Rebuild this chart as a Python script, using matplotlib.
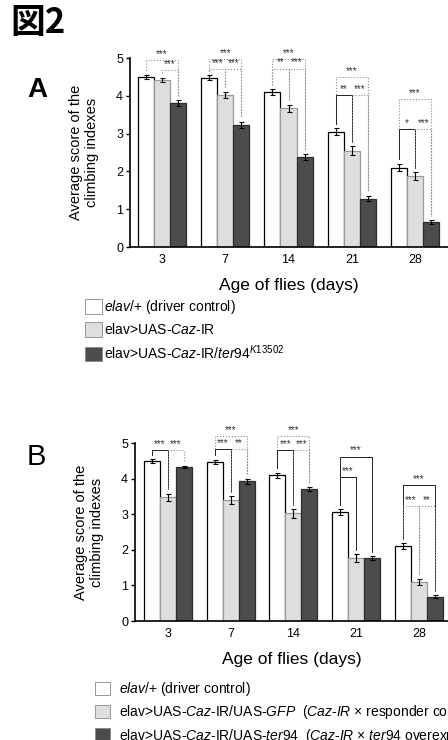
import numpy as np
import matplotlib
matplotlib.use("Agg")
import matplotlib.pyplot as plt
from matplotlib.patches import Patch

plt.rcParams['font.family'] = ['Liberation Sans', 'Noto Sans CJK JP', 'DejaVu Sans']
plt.rcParams['mathtext.fontset'] = 'custom'
plt.rcParams['mathtext.rm'] = 'Liberation Sans'
plt.rcParams['mathtext.it'] = 'Liberation Sans:italic'

# data
days = ['3', '7', '14', '21', '28']

a_control = [4.50, 4.48, 4.10, 3.05, 2.10]
a_cazir = [4.42, 4.02, 3.67, 2.55, 1.88]
a_ter94 = [3.80, 3.23, 2.37, 1.28, 0.66]
a_err = [[0.05, 0.06, 0.07, 0.09, 0.10],
         [0.05, 0.08, 0.09, 0.11, 0.10],
         [0.08, 0.08, 0.08, 0.07, 0.05]]

b_control = [4.50, 4.47, 4.10, 3.06, 2.10]
b_gfp = [3.47, 3.40, 3.02, 1.77, 1.10]
b_ter94 = [4.33, 3.93, 3.70, 1.77, 0.68]
b_err = [[0.05, 0.06, 0.07, 0.09, 0.08],
         [0.11, 0.11, 0.12, 0.10, 0.09],
         [0.03, 0.07, 0.06, 0.06, 0.04]]

# significance brackets: (group, bar1, bar2, level, label, solid?)
a_sig = [(0, 0, 2, 4.95, '***', False), (0, 1, 2, 4.69, '***', False),
         (1, 0, 2, 4.97, '***', False), (1, 0, 1, 4.70, '***', False), (1, 1, 2, 4.70, '***', False),
         (2, 0, 2, 4.97, '***', False), (2, 0, 1, 4.72, '**', False), (2, 1, 2, 4.72, '***', False),
         (3, 0, 2, 4.50, '***', False), (3, 0, 1, 4.01, '**', True), (3, 1, 2, 4.01, '***', False),
         (4, 0, 2, 3.92, '***', False), (4, 0, 1, 3.12, '*', True), (4, 1, 2, 3.12, '***', False)]

b_sig = [(0, 0, 1, 4.81, '***', True), (0, 1, 2, 4.81, '***', False),
         (1, 0, 2, 5.19, '***', False), (1, 0, 1, 4.83, '***', True), (1, 1, 2, 4.83, '**', False),
         (2, 0, 2, 5.20, '***', False), (2, 0, 1, 4.81, '***', True), (2, 1, 2, 4.81, '***', False),
         (3, 0, 2, 4.62, '***', True), (3, 0, 1, 4.04, '***', True),
         (4, 0, 2, 3.83, '***', True), (4, 0, 1, 3.23, '***', False), (4, 1, 2, 3.23, '**', False)]

legend_a = [r'$\mathit{elav}$/+ (driver control)',
            r'elav>UAS-$\mathit{Caz}$-IR',
            r'elav>UAS-$\mathit{Caz}$-IR/$\mathit{ter94}^{\mathit{K13502}}$']
legend_b = [r'$\mathit{elav}$/+ (driver control)',
            r'elav>UAS-$\mathit{Caz}$-IR/UAS-$\mathit{GFP}$  ($\mathit{Caz}$-$\mathit{IR}$ × responder control)',
            r'elav>UAS-$\mathit{Caz}$-IR/UAS-$\mathit{ter94}$  ($\mathit{Caz}$-$\mathit{IR}$ × $\mathit{ter94}$ overexpression)']

colors = ['white', '#dedede', '#4c4c4c']
edges = ['black', '#9a9a9a', '#2c2c2c']
w = 0.255


def panel(ax, series, errs, sig, xlim):
    x = np.arange(len(days))
    offs = [-w, 0, w]
    for k, vals in enumerate(series):
        ax.bar(x + offs[k], vals, w, color=colors[k], edgecolor=edges[k], linewidth=0.9)
        ax.errorbar(x + offs[k], vals, yerr=errs[k], fmt='none', ecolor='black',
                    elinewidth=0.8, capsize=1.8, capthick=0.8)
    for g, i, j, lev, lab, solid in sig:
        x1, x2 = g + offs[i], g + offs[j]
        y1 = min(series[i][g] + errs[i][g] + 0.12, lev)
        y2 = min(series[j][g] + errs[j][g] + 0.12, lev)
        if solid:
            kw = dict(color='#222222', lw=0.7, ls='-')
        else:
            kw = dict(color='#8a8a8a', lw=0.8, ls=':')
        ax.plot([x1, x1, x2, x2], [y1, lev, lev, y2], clip_on=False, **kw)
        ax.text((x1 + x2) / 2, lev + 0.03, lab, ha='center', va='bottom',
                fontsize=7, color='#333333', clip_on=False)
    ax.set_xlim(*xlim)
    ax.set_ylim(0, 5)
    ax.set_xticks(x)
    ax.set_xticklabels(days, fontsize=9)
    ax.set_yticks(range(6))
    ax.tick_params(axis='y', labelsize=9, length=3, width=1, pad=2)
    ax.tick_params(axis='x', length=0, pad=5)
    ax.spines['top'].set_visible(False)
    ax.spines['right'].set_visible(False)
    ax.spines['left'].set_linewidth(1.2)
    ax.spines['bottom'].set_linewidth(1.2)
    ax.set_ylabel('Average score of the\nclimbing indexes', fontsize=10.5, labelpad=12)
    ax.set_xlabel('Age of flies (days)', fontsize=12.5, labelpad=9)


fig = plt.figure(figsize=(4.48, 7.4), dpi=100)

ax_a = fig.add_axes([130 / 448, 1 - 247 / 740, 318 / 448, 189 / 740])
panel(ax_a, [a_control, a_cazir, a_ter94], a_err, a_sig, (-0.506, 4.52))

ax_b = fig.add_axes([135 / 448, 1 - 621 / 740, 313 / 448, 178 / 740])
panel(ax_b, [b_control, b_gfp, b_ter94], b_err, b_sig, (-0.526, 4.466))

fig.text(10 / 448, 1 - 22 / 740, '図2', fontsize=25, fontweight='bold',
         family=['Noto Sans CJK JP'], va='center', ha='left')
fig.text(27 / 448, 1 - 90 / 740, 'A', fontsize=20, fontweight='bold', va='center')
fig.text(27 / 448, 1 - 457 / 740, 'B', fontsize=21, va='center')

handles = [Patch(facecolor=c, edgecolor='#888888', linewidth=0.6) for c in colors]
fig.legend(handles, legend_a, loc='upper left', bbox_to_anchor=(85 / 448, 1 - 298 / 740),
           frameon=False, fontsize=10, handlelength=1.22, handleheight=1.22,
           handletextpad=0.15, labelspacing=0.43, borderpad=0, borderaxespad=0)
fig.legend(handles, legend_b, loc='upper left', bbox_to_anchor=(95 / 448, 1 - 680 / 740),
           frameon=False, fontsize=10, handlelength=1.08, handleheight=1.08,
           handletextpad=0.65, labelspacing=0.38, borderpad=0, borderaxespad=0)

fig.savefig('out.png', dpi=100)
